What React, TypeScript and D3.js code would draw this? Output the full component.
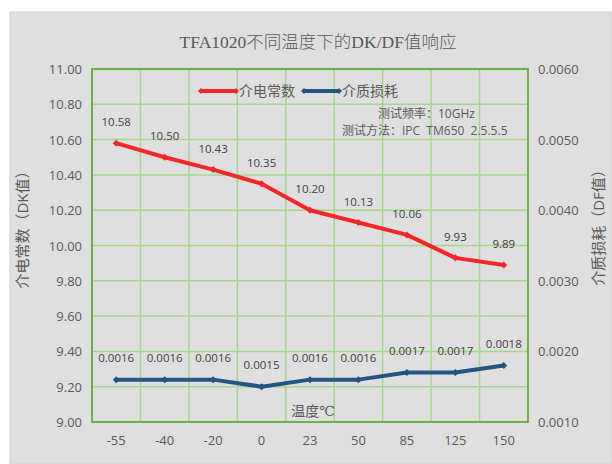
import React from "react";
import * as d3 from "d3";

const categories = ["-55", "-40", "-20", "0", "23", "50", "85", "125", "150"];
const dkValues = [10.58, 10.5, 10.43, 10.35, 10.2, 10.13, 10.06, 9.93, 9.89];
const dfValues = [0.0016, 0.0016, 0.0016, 0.0015, 0.0016, 0.0016, 0.0017, 0.0017, 0.0018];
const dkTicks = [9.0, 9.2, 9.4, 9.6, 9.8, 10.0, 10.2, 10.4, 10.6, 10.8, 11.0];
const dfTicks = [0.001, 0.002, 0.003, 0.004, 0.005, 0.006];
const title = "TFA1020不同温度下的DK/DF值响应";
const seriesNames = ["介电常数", "介质损耗"];
const notes = ["测试频率：10GHz", "测试方法：IPC  TM650  2.5.5.5"];

const W = 612, H = 464;
const L = 92, R = 528, T = 69, B = 422;
const RED = "#f5262a";
const BLUE = "#245482";
const GRID = "#a6d58f";
const AXIS = "#6fb04a";
const TXT = "#595959";
const sans = "'Open Sans', 'Liberation Sans', 'Noto Sans CJK SC', sans-serif";
const serif = "'Liberation Serif', 'DejaVu Serif', 'Noto Sans CJK SC', serif";

export default function App() {
  const x = d3.scaleBand().domain(categories).range([L, R]).padding(0);
  const yDK = d3.scaleLinear().domain([9, 11]).range([B, T]);
  const yDF = d3.scaleLinear().domain([0.001, 0.006]).range([B, T]);
  const cx = (c: string) => (x(c) as number) + x.bandwidth() / 2;
  const lineDK = d3.line<number>().x((_, i) => cx(categories[i])).y((d) => yDK(d));
  const lineDF = d3.line<number>().x((_, i) => cx(categories[i])).y((d) => yDF(d));
  const diamond = (px: number, py: number, s = 3.5) =>
    `M${px},${py - s}L${px + s},${py}L${px},${py + s}L${px - s},${py}Z`;
  const bounds = categories.map((c) => x(c) as number).concat([R]);

  return (
    <svg width={W} height={H} style={{ position: "absolute", left: 0, top: 0 }}>
      <rect x={0} y={0} width={W} height={H} fill="#ffffff" />
      <rect x={10} y={12} width={W - 10} height={H - 12} fill="#dfdfdf" stroke="#d0d0d0" />
      <text x={318} y={48} textAnchor="middle" fontFamily={serif} fontSize={17.5} fontWeight={300} fill={TXT}>{title}</text>
      {/* grid */}
      {dkTicks.map((t) => (
        <line key={"h" + t} x1={L} x2={R} y1={yDK(t)} y2={yDK(t)} stroke={GRID} strokeWidth={1.5} />
      ))}
      {bounds.map((b, i) => (
        <line key={"v" + i} x1={b} x2={b} y1={T} y2={B} stroke={GRID} strokeWidth={1.5} />
      ))}
      <rect x={L} y={T} width={R - L} height={B - T} fill="none" stroke={AXIS} strokeWidth={2} />
      {/* left ticks */}
      {dkTicks.map((t) => (
        <text key={"l" + t} x={82} y={yDK(t) + 5} textAnchor="end" fontFamily={sans} fontSize={13} fill={TXT}>
          {t.toFixed(2)}
        </text>
      ))}
      {dfTicks.map((t) => (
        <text key={"r" + t} x={538} y={yDF(t) + 5} textAnchor="start" fontFamily={sans} fontSize={13} fill={TXT}>
          {t.toFixed(4)}
        </text>
      ))}
      {categories.map((c) => (
        <text key={"c" + c} x={cx(c)} y={445} textAnchor="middle" fontFamily={sans} fontSize={13} fill={TXT}>
          {c}
        </text>
      ))}
      {/* axis titles */}
      <text transform={`translate(28,226) rotate(-90)`} textAnchor="middle" fontFamily={sans} fontSize={15} fill={TXT}>
        介电常数（DK值）
      </text>
      <text transform={`translate(604,224) rotate(-90)`} textAnchor="middle" fontFamily={sans} fontSize={15} fill={TXT}>
        介质损耗（DF值）
      </text>
      <text x={313} y={416} textAnchor="middle" fontFamily={serif} fontSize={14} fill={TXT}>温度℃</text>
      {/* lines */}
      <path d={lineDK(dkValues) as string} fill="none" stroke={RED} strokeWidth={4} strokeLinejoin="round" />
      <path d={lineDF(dfValues) as string} fill="none" stroke={BLUE} strokeWidth={4} strokeLinejoin="round" />
      {dkValues.map((v, i) => (
        <path key={"mk" + i} d={diamond(cx(categories[i]), yDK(v))} fill={RED} />
      ))}
      {dfValues.map((v, i) => (
        <path key={"mf" + i} d={diamond(cx(categories[i]), yDF(v))} fill={BLUE} />
      ))}
      {dkValues.map((v, i) => (
        <text key={"tk" + i} x={cx(categories[i])} y={yDK(v) - 17} textAnchor="middle" fontFamily={sans} fontSize={11.5} fill="#404040">
          {v.toFixed(2)}
        </text>
      ))}
      {dfValues.map((v, i) => (
        <text key={"tf" + i} x={cx(categories[i])} y={yDF(v) - 18} textAnchor="middle" fontFamily={sans} fontSize={11.5} fill="#404040">
          {v.toFixed(4)}
        </text>
      ))}
      {/* legend */}
      <line x1={201} x2={236} y1={91} y2={91} stroke={RED} strokeWidth={4} />
      <path d={diamond(201, 91, 3)} fill={RED} />
      <path d={diamond(236, 91, 3)} fill={RED} />
      <text x={239} y={96} fontFamily={serif} fontSize={14} fill={TXT}>{seriesNames[0]}</text>
      <line x1={304} x2={339} y1={91} y2={91} stroke={BLUE} strokeWidth={4} />
      <path d={diamond(304, 91, 3)} fill={BLUE} />
      <path d={diamond(339, 91, 3)} fill={BLUE} />
      <text x={342} y={96} fontFamily={serif} fontSize={14} fill={TXT}>{seriesNames[1]}</text>
      {/* notes */}
      <text x={378} y={118} fontFamily={sans} fontSize={12} fill={TXT}>{notes[0]}</text>
      <text x={342} y={135} fontFamily={sans} fontSize={12} fill={TXT} style={{ whiteSpace: "pre" }}>{notes[1]}</text>
    </svg>
  );
}
